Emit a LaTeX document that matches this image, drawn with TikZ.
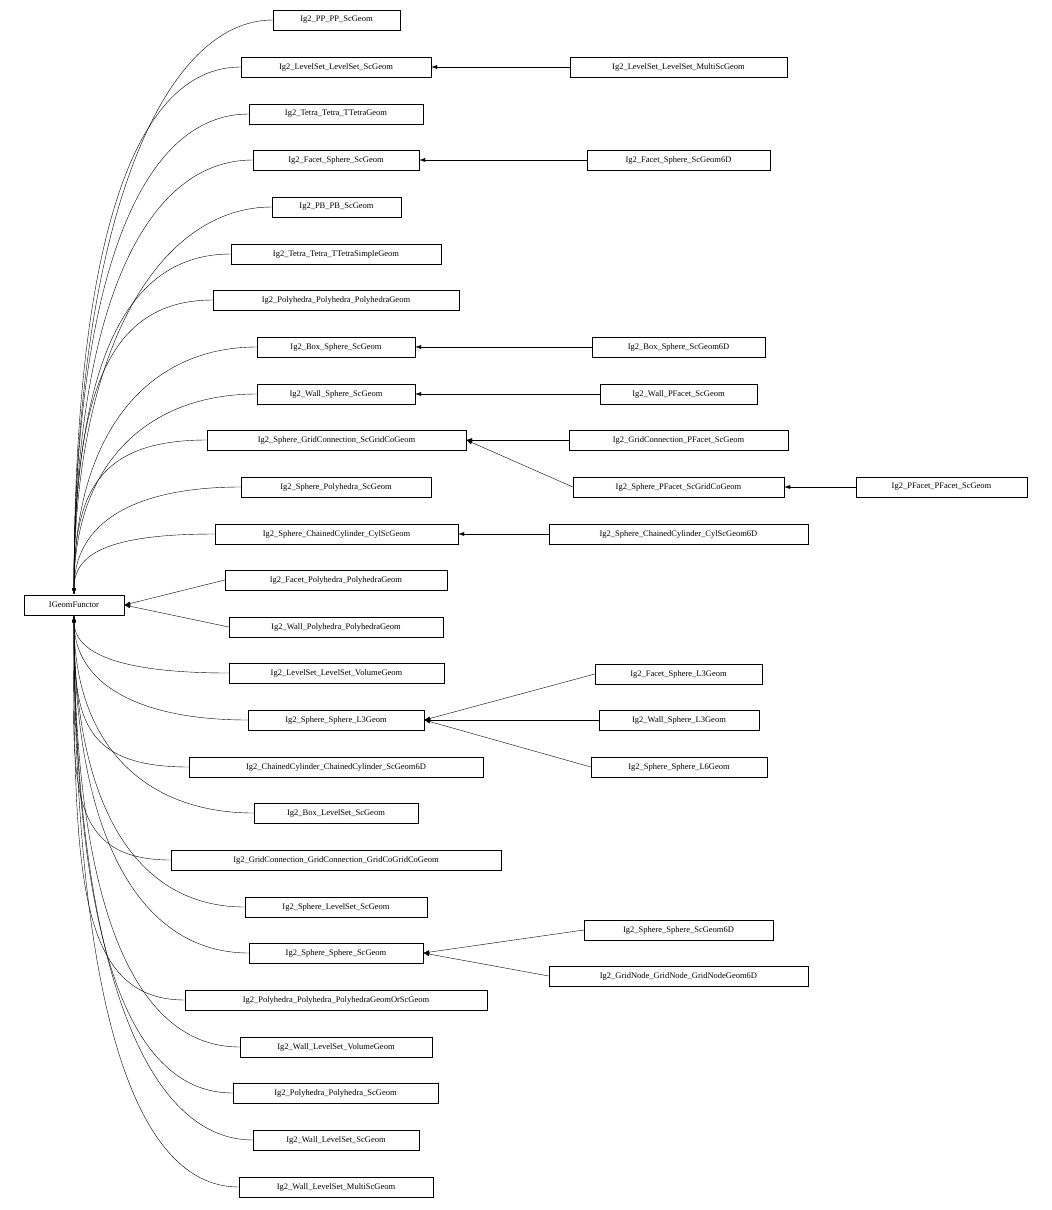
\documentclass[tikz,border=0pt]{standalone}
\usepackage{fontspec}
\setmainfont{Liberation Serif}
\usetikzlibrary{arrows.meta}
\begin{document}
\begin{tikzpicture}[x=1pt,y=-1pt,
  box/.style={draw,thin,minimum height=20pt,inner sep=0pt,font=\fontsize{8.5}{10}\selectfont,anchor=center},
  inh/.style={-{Latex[length=6pt,width=4pt]},thin}]
\useasboundingbox (0,0) rectangle (1052,1210);
\node[box,minimum width=100pt] (root) at (74,605) {IGeomFunctor};
\foreach \n/\l/\r/\y/\t in {
 a/273/400/20/Ig2\_PP\_PP\_ScGeom,
 b/241/431/67/Ig2\_LevelSet\_LevelSet\_ScGeom,
 c/249/423/114/Ig2\_Tetra\_Tetra\_TTetraGeom,
 d/253/419/160/Ig2\_Facet\_Sphere\_ScGeom,
 e/272/401/207/Ig2\_PB\_PB\_ScGeom,
 f/231/441/254/Ig2\_Tetra\_Tetra\_TTetraSimpleGeom,
 g/213/459/300/Ig2\_Polyhedra\_Polyhedra\_PolyhedraGeom,
 h/257/415/347/Ig2\_Box\_Sphere\_ScGeom,
 i/257/415/394/Ig2\_Wall\_Sphere\_ScGeom,
 j/207/466/440/Ig2\_Sphere\_GridConnection\_ScGridCoGeom,
 k/241/431/487/Ig2\_Sphere\_Polyhedra\_ScGeom,
 l/215/458/534/Ig2\_Sphere\_ChainedCylinder\_CylScGeom}
{ \node[box,minimum width=\r-\l] (\n) at ({(\l+\r)/2},\y) {\t};
  \draw[inh] (\n.west) .. controls (\l-110,\y) and (74,{\y+(594-\y)*0.35}) .. (74,594); }
\foreach \n/\l/\r/\y/\t in {
 o/229/444/673/Ig2\_LevelSet\_LevelSet\_VolumeGeom,
 p/248/424/720/Ig2\_Sphere\_Sphere\_L3Geom,
 q/189/483/767/Ig2\_ChainedCylinder\_ChainedCylinder\_ScGeom6D,
 r/254/418/813/Ig2\_Box\_LevelSet\_ScGeom,
 s/171/501/860/Ig2\_GridConnection\_GridConnection\_GridCoGridCoGeom,
 t/245/427/907/Ig2\_Sphere\_LevelSet\_ScGeom,
 u/249/423/953/Ig2\_Sphere\_Sphere\_ScGeom,
 v/185/487/1000/Ig2\_Polyhedra\_Polyhedra\_PolyhedraGeomOrScGeom,
 w/240/432/1047/Ig2\_Wall\_LevelSet\_VolumeGeom,
 x/233/438/1093/Ig2\_Polyhedra\_Polyhedra\_ScGeom,
 y/253/419/1140/Ig2\_Wall\_LevelSet\_ScGeom,
 z/239/433/1187/Ig2\_Wall\_LevelSet\_MultiScGeom}
{ \node[box,minimum width=\r-\l] (\n) at ({(\l+\r)/2},\y) {\t};
  \draw[inh] (\n.west) .. controls (\l-110,\y) and (74,{\y-(\y-616)*0.35}) .. (74,616); }
\node[box,minimum width=222pt] (m) at (336,580) {Ig2\_Facet\_Polyhedra\_PolyhedraGeom};
\node[box,minimum width=214pt] (n) at (336,627) {Ig2\_Wall\_Polyhedra\_PolyhedraGeom};
\draw[inh] (m.west) -- (root.east);
\draw[inh] (n.west) -- (root.east);
\foreach \n/\l/\r/\y/\t/\p in {
 B/570/787/67/Ig2\_LevelSet\_LevelSet\_MultiScGeom/b,
 D/587/770/160/Ig2\_Facet\_Sphere\_ScGeom6D/d,
 H/592/765/347/Ig2\_Box\_Sphere\_ScGeom6D/h,
 I/600/757/394/Ig2\_Wall\_PFacet\_ScGeom/i,
 J/569/788/440/Ig2\_GridConnection\_PFacet\_ScGeom/j,
 K/573/784/487/Ig2\_Sphere\_PFacet\_ScGridCoGeom/j,
 L/549/808/534/Ig2\_Sphere\_ChainedCylinder\_CylScGeom6D/l,
 P1/595/762/674/Ig2\_Facet\_Sphere\_L3Geom/p,
 P2/599/759/720/Ig2\_Wall\_Sphere\_L3Geom/p,
 P3/591/767/767/Ig2\_Sphere\_Sphere\_L6Geom/p,
 U1/584/773/930/Ig2\_Sphere\_Sphere\_ScGeom6D/u,
 U2/549/808/976/Ig2\_GridNode\_GridNode\_GridNodeGeom6D/u}
{ \node[box,minimum width=\r-\l] (\n) at ({(\l+\r)/2},\y) {\t};
  \draw[inh] (\n.west) -- (\p.east); }
\node[box,minimum width=171pt] (Q) at (941.5,487) {Ig2\_PFacet\_PFacet\_ScGeom};
\draw[inh] (Q.west) -- (K.east);
\end{tikzpicture}
\end{document}
